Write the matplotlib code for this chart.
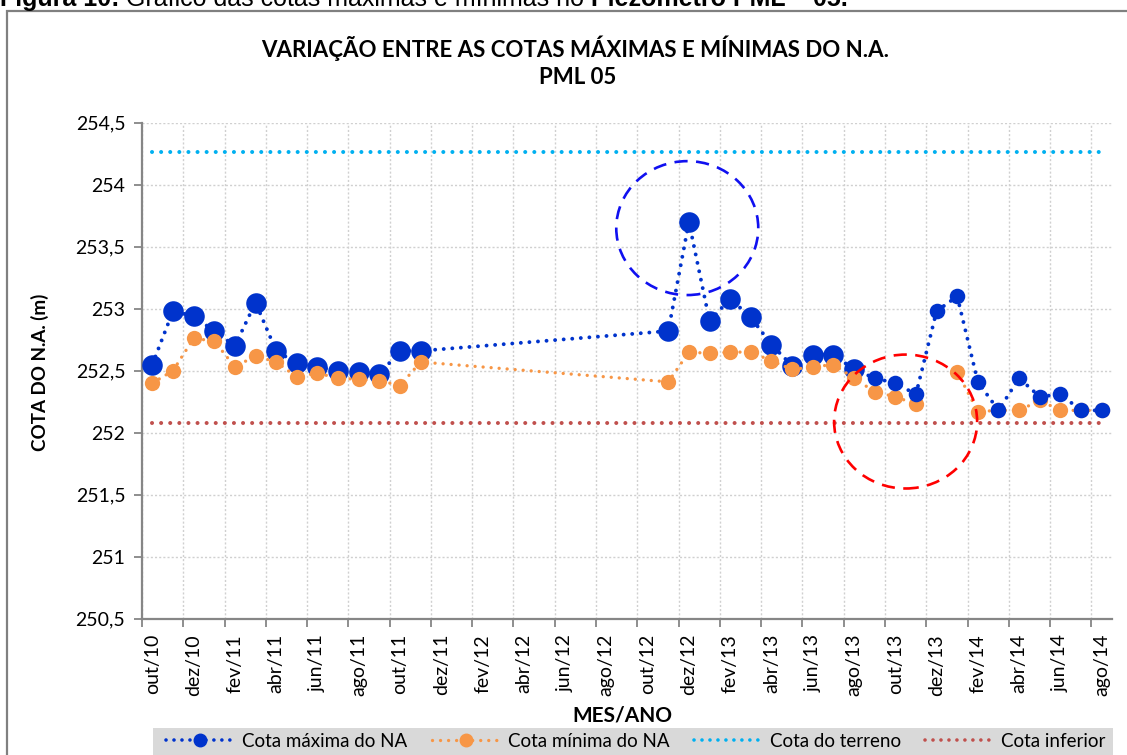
import numpy as np
import matplotlib
matplotlib.use("Agg")
import matplotlib.pyplot as plt
from matplotlib.lines import Line2D
from matplotlib.patches import Ellipse, Rectangle
from matplotlib.ticker import FixedLocator, FuncFormatter

plt.rcParams['font.family'] = ['Lato', 'DejaVu Sans']

# leituras mensais (ano-mes)
meses = ['2010-10', '2010-11', '2010-12', '2011-01', '2011-02', '2011-03', '2011-04',
         '2011-05', '2011-06', '2011-07', '2011-08', '2011-09', '2011-10', '2011-11',
         '2012-11', '2012-12', '2013-01', '2013-02', '2013-03', '2013-04', '2013-05',
         '2013-06', '2013-07', '2013-08', '2013-09', '2013-10', '2013-11', '2013-12',
         '2014-01', '2014-02', '2014-03', '2014-04', '2014-05', '2014-06', '2014-07',
         '2014-08']
cota_max = [252.55, 252.98, 252.94, 252.82, 252.70, 253.05, 252.66, 252.56, 252.53,
            252.50, 252.49, 252.47, 252.66, 252.66,
            252.82, 253.70, 252.90, 253.08, 252.93, 252.71, 252.54, 252.63, 252.63,
            252.51, 252.44, 252.40, 252.31, 252.98, 253.10, 252.41, 252.18, 252.44,
            252.29, 252.31, 252.18, 252.18]
cota_min = [252.40, 252.50, 252.76, 252.74, 252.53, 252.62, 252.57, 252.45, 252.48,
            252.44, 252.43, 252.42, 252.38, 252.57,
            252.41, 252.65, 252.64, 252.65, 252.65, 252.58, 252.51, 252.53, 252.55,
            252.44, 252.33, 252.29, 252.23, np.nan, 252.49, 252.17, 252.18, 252.18,
            252.26, 252.18, 252.18, 252.18]
cota_terreno = 254.26
cota_inferior = 252.08
inicio, fim = '2010-10', '2014-08'

rotulos_x = ['out/10', 'dez/10', 'fev/11', 'abr/11', 'jun/11', 'ago/11', 'out/11',
             'dez/11', 'fev/12', 'abr/12', 'jun/12', 'ago/12', 'out/12', 'dez/12',
             'fev/13', 'abr/13', 'jun/13', 'ago/13', 'out/13', 'dez/13', 'fev/14',
             'abr/14', 'jun/14', 'ago/14']
yticks = [250.5, 251, 251.5, 252, 252.5, 253, 253.5, 254, 254.5]

AZUL = '#0033CC'
LARANJA = '#F79646'
CIANO = '#00B0F0'
VERMELHO = '#C0504D'

W, H = 1127, 755


def mes_idx(m):
    ano, mes = map(int, m.split('-'))
    return (ano - 2010) * 12 + mes - 10


# pontos no meio de cada mes (eixo de datas com base mensal)
x = np.array([mes_idx(m) + 0.5 for m in meses])
ymax = np.array(cota_max)
ymin = np.array(cota_min)
pequeno = np.array([m >= '2013-09' for m in meses])

fig = plt.figure(figsize=(W / 100, H / 100), dpi=100)
ax = fig.add_axes([142 / W, 1 - 618.7 / H, 970 / W, 496 / H])

x0, x1 = mes_idx(inicio) + 0.5, mes_idx(fim) + 0.5
ax.plot([x0, x1], [cota_terreno] * 2, color=CIANO, lw=2.9,
        ls=(0, (0.01, 2.25)), dash_capstyle='round', zorder=2)
ax.plot([x0, x1], [cota_inferior] * 2, color=VERMELHO, lw=2.9,
        ls=(0, (0.01, 2.25)), dash_capstyle='round', zorder=2)

ax.plot(x, ymax, color=AZUL, lw=2.8, ls=(0, (0.01, 2.2)), dash_capstyle='round', zorder=3)
ax.scatter(x[~pequeno], ymax[~pequeno], s=14.8 ** 2, color=AZUL, lw=0, zorder=4)

ax.plot(x, ymin, color=LARANJA, lw=2.4, ls=(0, (0.01, 2.4)), dash_capstyle='round', zorder=5)
ax.scatter(x, ymin, s=11 ** 2, color=LARANJA, lw=0, zorder=6)

ax.scatter(x[pequeno], ymax[pequeno], s=11.2 ** 2, color=AZUL, lw=0, zorder=7)

# destaques
ax.add_patch(Ellipse((26.42, 253.65), 6.88, 1.08, fill=False, ec='#1010F0', lw=1.9,
                     ls=(0, (5, 3.2)), zorder=8))
ax.add_patch(Ellipse((37.0, 252.09), 6.93, 1.08, fill=False, ec='#FF0000', lw=1.9,
                     ls=(0, (5, 3.2)), zorder=8))

ax.set_xlim(0, 47)
ax.set_ylim(250.5, 254.5)
ax.yaxis.set_major_locator(FixedLocator(yticks))
ax.yaxis.set_major_formatter(FuncFormatter(lambda v, p: f'{v:g}'.replace('.', ',')))
ax.xaxis.set_major_locator(FixedLocator(range(0, 47, 2)))
ax.xaxis.set_minor_locator(FixedLocator([i + 0.5 for i in range(0, 47, 2)]))
ax.set_xticklabels([], minor=False)
ax.set_xticklabels(rotulos_x, minor=True, rotation=90)
ax.tick_params(axis='x', which='major', length=6, width=1.3, color='#868686')
ax.tick_params(axis='x', which='minor', length=0, pad=11, labelsize=14)
ax.tick_params(axis='y', length=6, width=1.3, color='#868686', pad=6, labelsize=14)

ax.grid(True, which='major', color='#d0d0d0', lw=1, ls=(0, (1.5, 1.5)), zorder=0)
ax.set_axisbelow(True)
for s in ('top', 'right'):
    ax.spines[s].set_visible(False)
for s in ('left', 'bottom'):
    ax.spines[s].set_color('#868686')
    ax.spines[s].set_linewidth(1.6)

# titulos
fig.text(575 / W, 1 - 48 / H, 'VARIAÇÃO ENTRE AS COTAS MÁXIMAS E MÍNIMAS DO N.A.',
         ha='center', va='center', fontsize=16, fontweight='bold')
fig.text(578 / W, 1 - 77 / H, 'PML 05', ha='center', va='center',
         fontsize=16, fontweight='bold')
fig.text(40 / W, 1 - 372 / H, 'COTA DO N.A. (m)', ha='center', va='center',
         rotation=90, fontsize=13.5, fontweight='bold')
fig.text(622 / W, 1 - 716 / H, 'MES/ANO', ha='center', va='center',
         fontsize=15, fontweight='bold')

# legenda da figura (cortada no topo)
cap = ['Liberation Sans', 'DejaVu Sans']
t1 = fig.text(0, 1 - 6 / H, 'Figura 10:', ha='left', va='baseline',
              fontsize=18, fontweight='bold', family=cap)
t2 = plt.annotate('Gráfico das cotas máximas e mínimas no', xy=(1, 0), xycoords=t1,
                  xytext=(5, 0), textcoords='offset points', ha='left', va='bottom',
                  fontsize=18, family=cap, annotation_clip=False)
plt.annotate('Piezômetro PML – 05.', xy=(1, 0), xycoords=t2,
             xytext=(5, 0), textcoords='offset points', ha='left', va='bottom',
             fontsize=18, fontweight='bold', family=cap, annotation_clip=False)

# moldura do grafico
fig.add_artist(Rectangle((7 / W, -0.1), 1.2, 1.1 - 11 / H, transform=fig.transFigure,
                         fill=False, ec='#808080', lw=1.6))

# legenda
fig.add_artist(Rectangle((153 / W, 0), 960 / W, 27 / H, transform=fig.transFigure,
                         fc='#d9d9d9', ec='none'))
handles = [
    Line2D([], [], color=AZUL, lw=2.6, ls=(0, (0.01, 2.2)), dash_capstyle='round',
           marker='o', ms=9, mec=AZUL, mfc=AZUL),
    Line2D([], [], color=LARANJA, lw=2.4, ls=(0, (0.01, 2.4)), dash_capstyle='round',
           marker='o', ms=9, mec=LARANJA, mfc=LARANJA),
    Line2D([], [], color=CIANO, lw=2.6, ls=(0, (0.01, 2.2)), dash_capstyle='round'),
    Line2D([], [], color=VERMELHO, lw=2.6, ls=(0, (0.01, 2.2)), dash_capstyle='round'),
]
fig.legend(handles, ['Cota máxima do NA', 'Cota mínima do NA', 'Cota do terreno',
                     'Cota inferior'],
           loc='center', bbox_to_anchor=(636 / W, 1 - 741.5 / H), ncol=4,
           frameon=False, fontsize=13.5, handlelength=3.6, handletextpad=0.45,
           columnspacing=1.3, borderpad=0, borderaxespad=0)

fig.savefig('out.png', dpi=100)
